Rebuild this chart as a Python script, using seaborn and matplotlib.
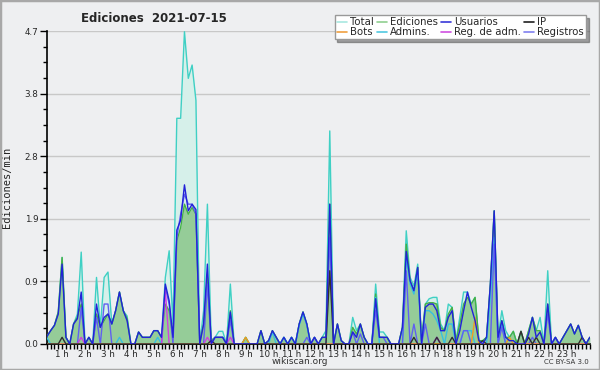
import numpy as np
import pandas as pd
import seaborn as sns
import matplotlib.pyplot as plt
from matplotlib.lines import Line2D
from matplotlib.patches import Rectangle
from matplotlib.ticker import AutoMinorLocator, MultipleLocator

# 10 minute bins, 00:20 -> 24:00
minutos = np.arange(20, 1441, 10)
horas = minutos / 60

# one line per hour (hour 0 starts at 00:20)
total = [
    0.11, 0.20, 0.28, 0.48,
    1.30, 0.10, 0.00, 0.30, 0.45, 1.38,
    0.00, 0.10, 0.00, 1.00, 0.25, 1.00,
    1.08, 0.30, 0.50, 0.78, 0.50, 0.42,
    0.00, 0.00, 0.18, 0.10, 0.10, 0.10,
    0.20, 0.20, 0.10, 1.00, 1.40, 0.30,
    3.39, 3.39, 4.69, 3.99, 4.19, 3.66,
    0.00, 0.50, 2.10, 0.05, 0.10, 0.19,
    0.19, 0.00, 0.90, 0.00, 0.00, 0.00,
    0.10, 0.00, 0.00, 0.00, 0.20, 0.00,
    0.05, 0.20, 0.10, 0.00, 0.10, 0.00,
    0.10, 0.00, 0.30, 0.48, 0.30, 0.00,
    0.10, 0.00, 0.10, 0.20, 3.20, 0.00,
    0.30, 0.05, 0.00, 0.00, 0.40, 0.20,
    0.30, 0.10, 0.00, 0.00, 0.90, 0.18,
    0.18, 0.10, 0.00, 0.00, 0.00, 0.25,
    1.70, 1.00, 0.87, 1.20, 0.05, 0.60,
    0.68, 0.70, 0.70, 0.30, 0.20, 0.60,
    0.55, 0.05, 0.40, 0.78, 0.78, 0.60,
    0.70, 0.05, 0.05, 0.10, 0.90, 2.00,
    0.10, 0.50, 0.20, 0.10, 0.19, 0.00,
    0.19, 0.00, 0.20, 0.40, 0.20, 0.40,
    0.00, 1.10, 0.00, 0.10, 0.00, 0.10,
    0.20, 0.30, 0.15, 0.28, 0.10, 0.00,
    0.10,
]

ediciones = [
    0.11, 0.20, 0.28, 0.48,
    1.30, 0.10, 0.00, 0.30, 0.40, 0.60,
    0.00, 0.10, 0.00, 0.45, 0.25, 0.35,
    0.45, 0.30, 0.50, 0.78, 0.50, 0.38,
    0.00, 0.00, 0.18, 0.10, 0.10, 0.10,
    0.20, 0.20, 0.10, 0.60, 0.50, 0.10,
    1.55, 1.75, 2.10, 1.95, 2.05, 1.95,
    0.00, 0.30, 1.00, 0.05, 0.10, 0.10,
    0.10, 0.00, 0.50, 0.00, 0.00, 0.00,
    0.10, 0.00, 0.00, 0.00, 0.20, 0.00,
    0.05, 0.20, 0.10, 0.00, 0.10, 0.00,
    0.10, 0.00, 0.30, 0.48, 0.30, 0.00,
    0.10, 0.00, 0.10, 0.10, 2.10, 0.00,
    0.30, 0.05, 0.00, 0.00, 0.25, 0.15,
    0.30, 0.10, 0.00, 0.00, 0.75, 0.10,
    0.10, 0.10, 0.00, 0.00, 0.00, 0.25,
    1.50, 0.95, 0.80, 1.15, 0.05, 0.60,
    0.62, 0.62, 0.60, 0.25, 0.20, 0.45,
    0.55, 0.05, 0.30, 0.60, 0.70, 0.60,
    0.70, 0.05, 0.05, 0.10, 0.90, 2.00,
    0.10, 0.35, 0.10, 0.10, 0.19, 0.00,
    0.19, 0.00, 0.20, 0.40, 0.20, 0.20,
    0.00, 0.60, 0.00, 0.10, 0.00, 0.10,
    0.20, 0.30, 0.15, 0.28, 0.10, 0.00,
    0.10,
]

usuarios = [
    0.11, 0.20, 0.28, 0.45,
    1.20, 0.10, 0.00, 0.30, 0.38, 0.78,
    0.00, 0.10, 0.00, 0.60, 0.25, 0.40,
    0.45, 0.30, 0.50, 0.78, 0.50, 0.35,
    0.00, 0.00, 0.18, 0.10, 0.10, 0.10,
    0.20, 0.20, 0.10, 0.90, 0.65, 0.10,
    1.71, 1.86, 2.39, 2.00, 2.10, 2.02,
    0.00, 0.30, 1.20, 0.00, 0.10, 0.10,
    0.10, 0.00, 0.48, 0.00, 0.00, 0.00,
    0.00, 0.00, 0.00, 0.00, 0.20, 0.00,
    0.05, 0.20, 0.10, 0.00, 0.10, 0.00,
    0.10, 0.00, 0.30, 0.48, 0.30, 0.00,
    0.10, 0.00, 0.10, 0.10, 2.10, 0.00,
    0.30, 0.05, 0.00, 0.00, 0.18, 0.10,
    0.30, 0.10, 0.00, 0.00, 0.68, 0.10,
    0.10, 0.10, 0.00, 0.00, 0.00, 0.25,
    1.39, 0.95, 0.80, 1.15, 0.00, 0.55,
    0.60, 0.60, 0.50, 0.20, 0.20, 0.40,
    0.50, 0.00, 0.20, 0.50, 0.78, 0.55,
    0.35, 0.05, 0.00, 0.10, 0.90, 2.00,
    0.10, 0.35, 0.10, 0.05, 0.05, 0.00,
    0.00, 0.00, 0.15, 0.40, 0.10, 0.18,
    0.00, 0.60, 0.00, 0.10, 0.00, 0.10,
    0.20, 0.30, 0.15, 0.28, 0.10, 0.00,
    0.10,
]

ip = [
    0.00, 0.00, 0.00, 0.00,
    0.10, 0.00, 0.00, 0.00, 0.00, 0.00,
    0.00, 0.00, 0.00, 0.00, 0.00, 0.00,
    0.00, 0.00, 0.00, 0.00, 0.00, 0.00,
    0.00, 0.00, 0.00, 0.00, 0.00, 0.00,
    0.00, 0.00, 0.00, 0.00, 0.00, 0.00,
    0.00, 0.00, 0.00, 0.00, 0.00, 0.00,
    0.00, 0.00, 0.00, 0.05, 0.00, 0.00,
    0.00, 0.00, 0.00, 0.00, 0.00, 0.00,
    0.00, 0.00, 0.00, 0.00, 0.00, 0.00,
    0.00, 0.00, 0.00, 0.00, 0.00, 0.00,
    0.00, 0.00, 0.00, 0.00, 0.00, 0.00,
    0.00, 0.00, 0.00, 0.00, 1.10, 0.00,
    0.00, 0.00, 0.00, 0.00, 0.00, 0.00,
    0.00, 0.00, 0.00, 0.00, 0.00, 0.00,
    0.00, 0.00, 0.00, 0.00, 0.00, 0.00,
    0.00, 0.00, 0.10, 0.00, 0.00, 0.00,
    0.00, 0.00, 0.10, 0.00, 0.00, 0.00,
    0.10, 0.00, 0.00, 0.00, 0.00, 0.00,
    0.00, 0.00, 0.05, 0.00, 0.00, 0.00,
    0.00, 0.00, 0.00, 0.00, 0.00, 0.00,
    0.19, 0.00, 0.10, 0.00, 0.10, 0.00,
    0.00, 0.00, 0.00, 0.00, 0.00, 0.00,
    0.00, 0.00, 0.00, 0.00, 0.10, 0.00,
    0.00,
]

admins = [
    0.10, 0.00, 0.00, 0.00,
    0.00, 0.00, 0.00, 0.00, 0.00, 0.00,
    0.00, 0.00, 0.00, 0.00, 0.00, 0.00,
    0.00, 0.00, 0.00, 0.10, 0.00, 0.00,
    0.00, 0.00, 0.00, 0.00, 0.00, 0.00,
    0.00, 0.10, 0.00, 0.00, 0.00, 0.00,
    0.00, 0.00, 0.00, 0.00, 0.00, 0.00,
    0.00, 0.00, 0.00, 0.00, 0.00, 0.00,
    0.00, 0.00, 0.00, 0.00, 0.00, 0.00,
    0.00, 0.00, 0.00, 0.00, 0.00, 0.00,
    0.00, 0.18, 0.00, 0.00, 0.10, 0.00,
    0.10, 0.00, 0.28, 0.45, 0.28, 0.00,
    0.00, 0.00, 0.00, 0.00, 0.00, 0.00,
    0.00, 0.00, 0.00, 0.00, 0.00, 0.00,
    0.00, 0.00, 0.00, 0.00, 0.70, 0.00,
    0.00, 0.00, 0.00, 0.00, 0.00, 0.00,
    1.30, 0.90, 0.75, 1.10, 0.00, 0.50,
    0.50, 0.45, 0.35, 0.20, 0.00, 0.30,
    0.30, 0.00, 0.00, 0.20, 0.20, 0.20,
    0.00, 0.00, 0.00, 0.00, 0.70, 1.60,
    0.00, 0.30, 0.00, 0.00, 0.00, 0.00,
    0.00, 0.00, 0.00, 0.00, 0.00, 0.00,
    0.00, 0.00, 0.00, 0.00, 0.00, 0.00,
    0.00, 0.00, 0.00, 0.00, 0.00, 0.00,
    0.00,
]

registros = [
    0.00, 0.00, 0.00, 0.00,
    0.00, 0.00, 0.00, 0.00, 0.00, 0.55,
    0.00, 0.00, 0.00, 0.40, 0.00, 0.60,
    0.60, 0.00, 0.00, 0.00, 0.00, 0.00,
    0.00, 0.00, 0.00, 0.00, 0.00, 0.00,
    0.00, 0.00, 0.00, 0.85, 0.60, 0.00,
    1.60, 1.95, 2.25, 2.10, 2.10, 1.95,
    0.00, 0.00, 0.90, 0.00, 0.10, 0.10,
    0.10, 0.00, 0.35, 0.00, 0.00, 0.00,
    0.00, 0.00, 0.00, 0.00, 0.00, 0.00,
    0.00, 0.00, 0.00, 0.00, 0.00, 0.00,
    0.00, 0.00, 0.00, 0.00, 0.10, 0.00,
    0.10, 0.00, 0.00, 0.00, 1.60, 0.00,
    0.00, 0.00, 0.00, 0.00, 0.18, 0.00,
    0.15, 0.00, 0.00, 0.00, 0.50, 0.10,
    0.10, 0.00, 0.00, 0.00, 0.00, 0.00,
    1.10, 0.00, 0.30, 0.00, 0.00, 0.30,
    0.00, 0.00, 0.10, 0.00, 0.00, 0.00,
    0.00, 0.00, 0.00, 0.20, 0.20, 0.00,
    0.00, 0.00, 0.00, 0.00, 0.00, 1.50,
    0.00, 0.25, 0.00, 0.00, 0.00, 0.00,
    0.00, 0.00, 0.00, 0.10, 0.00, 0.00,
    0.00, 0.45, 0.00, 0.10, 0.00, 0.00,
    0.00, 0.00, 0.00, 0.00, 0.00, 0.00,
    0.00,
]

reg_adm = [0.0] * len(minutos)
bots = [0.0] * len(minutos)
reg_adm_puntos = {110: 0.10, 330: 0.80, 440: 0.10, 500: 0.10, 1040: 0.10}
bots_puntos = {540: 0.10, 1140: 0.40, 1230: 0.10}
for m, v in reg_adm_puntos.items():
    reg_adm[list(minutos).index(m)] = v
for m, v in bots_puntos.items():
    bots[list(minutos).index(m)] = v

series = {
    "Total": total, "Ediciones": ediciones, "Usuarios": usuarios, "IP": ip,
    "Bots": bots, "Admins.": admins, "Reg. de adm.": reg_adm, "Registros": registros,
}
colores_linea = {
    "Total": "#3fd0c4", "Ediciones": "#45b045", "Usuarios": "#2222d8", "IP": "#303030",
    "Bots": "#f09a20", "Admins.": "#38c0e0", "Reg. de adm.": "#d040e0", "Registros": "#6060f0",
}
colores_leyenda = {
    "Total": "#a8e8e0", "Ediciones": "#90d090", "Usuarios": "#3838d8", "IP": "#202020",
    "Bots": "#f0a040", "Admins.": "#50c8e0", "Reg. de adm.": "#d050e0", "Registros": "#8080f0",
}

df = pd.DataFrame([
    {"hora": h, "valor": v, "serie": nombre}
    for nombre, vals in series.items()
    for h, v in zip(horas, vals)
])

sns.set_style("white")
bg = "#eeeff1"
fig = plt.figure(figsize=(6, 3.7), dpi=100, facecolor=bg)
ax = fig.add_axes([0.078, 0.0703, 0.905, 0.8457])
ax.set_facecolor(bg)

ax.fill_between(horas, total, color="#d6f0ea", lw=0, zorder=1)
ax.fill_between(horas, ediciones, color="#92ca94", alpha=0.95, lw=0, zorder=2)

orden = ["Total", "Ediciones", "Admins.", "Registros", "Reg. de adm.", "Bots", "IP", "Usuarios"]
sns.lineplot(data=df, x="hora", y="valor", hue="serie", hue_order=orden,
             palette=colores_linea, estimator=None, legend=False, linewidth=1.0,
             ax=ax, zorder=3)

ax.set_xlim(1 / 3, 24)
ax.set_ylim(0, 4.7)
yt = np.linspace(0, 4.7, 6)
ax.set_yticks(yt)
ax.set_yticklabels([f"{v:.1f}" for v in yt])
ax.yaxis.set_minor_locator(AutoMinorLocator(4))
ax.set_xticks(range(1, 24))
ax.set_xticklabels([f"{h} h" for h in range(1, 24)])
ax.xaxis.set_minor_locator(MultipleLocator(1 / 6))
ax.tick_params(axis="x", which="major", labelsize=6.3, length=3.5, width=1, pad=0.5,
               direction="out", color="black", bottom=True)
ax.tick_params(axis="x", which="minor", length=3.5, width=1, direction="out",
               color="black", bottom=True)
ax.tick_params(axis="y", which="major", labelsize=6.3, length=5, width=1, pad=1,
               direction="out", color="black", left=True)
ax.tick_params(axis="y", which="minor", length=3, width=1, direction="out",
               color="black", left=True)
ax.grid(axis="y", color="#c8c8c8", lw=1, zorder=0)
ax.set_axisbelow(True)
for s in ["top", "right"]:
    ax.spines[s].set_visible(False)
for s in ["left", "bottom"]:
    ax.spines[s].set_color("black")
    ax.spines[s].set_linewidth(1.2)
ax.set_xlabel("")
ax.set_ylabel("Ediciones/min", family="DejaVu Sans Mono", fontsize=7.5, labelpad=9,
              color="#222222")

fig.text(0.257, 0.951, "Ediciones  2021-07-15", ha="center", va="center",
         weight="bold", fontsize=8.5)
fig.text(0.5, 0.023, "wikiscan.org", ha="center", va="center", fontsize=6.5, color="#333333")
fig.text(0.982, 0.021, "CC BY-SA 3.0", ha="right", va="center", fontsize=5, color="#333333")

nombres_leg = ["Total", "Bots", "Ediciones", "Admins.", "Usuarios", "Reg. de adm.", "IP", "Registros"]
handles = [Line2D([], [], color=colores_leyenda[n], lw=1.2) for n in nombres_leg]
leg = fig.legend(handles, nombres_leg, ncol=4, loc="upper right",
                 bbox_to_anchor=(0.985, 0.972), fontsize=7.3, handlelength=1.0,
                 handletextpad=0.3, columnspacing=0.3, labelspacing=0.0,
                 borderpad=0.2, fancybox=False, shadow=True, framealpha=1,
                 edgecolor="#999999")
leg.get_frame().set_linewidth(1)

fig.patches.append(Rectangle((0, 0), 1, 1, transform=fig.transFigure, fill=False,
                             edgecolor="#a8a8a8", lw=2.5, zorder=10))

fig.savefig("out.png", dpi=100, facecolor=bg)
